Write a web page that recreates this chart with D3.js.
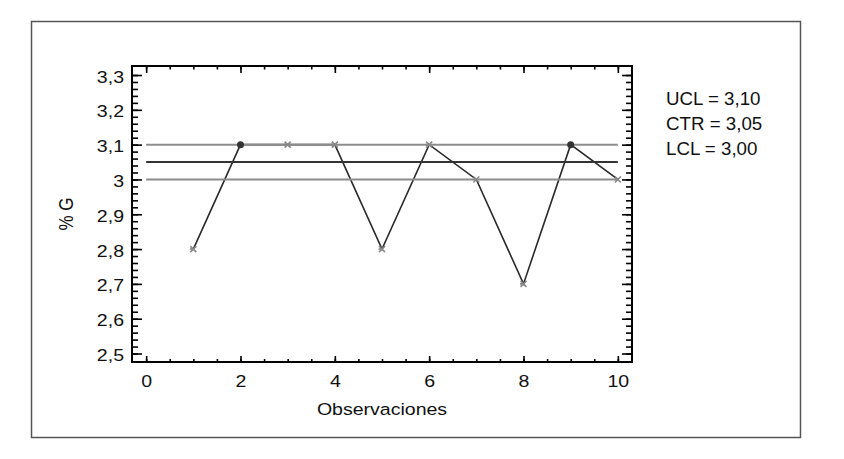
<!DOCTYPE html>
<html>
<head>
<meta charset="utf-8">
<script src="https://cdn.jsdelivr.net/npm/d3@7"></script>
<style>
  html, body { margin: 0; padding: 0; background: #fff; }
  svg { display: block; }
  text { font-family: Arial, "Liberation Sans", sans-serif; fill: #111; }
</style>
</head>
<body>
<div id="chart"></div>
<script>
// ---- data ----
const observations = [1, 2, 3, 4, 5, 6, 7, 8, 9, 10];
const values = [2.8, 3.1, 3.1, 3.1, 2.8, 3.1, 3.0, 2.7, 3.1, 3.0];
const markerTypes = ["x", "o", "x", "x", "x", "x", "x", "x", "o", "x"];
const limitNames = ["UCL", "CTR", "LCL"];
const limitValues = [3.10, 3.05, 3.00];
const limitLabels = ["UCL = 3,10", "CTR = 3,05", "LCL = 3,00"];
const xTicks = [0, 2, 4, 6, 8, 10];
const yTicks = [2.5, 2.6, 2.7, 2.8, 2.9, 3.0, 3.1, 3.2, 3.3];
const xLabel = "Observaciones";
const yLabel = "% G";

const W = 844, H = 459;
const fmt = v => String(+v.toFixed(2)).replace(".", ",");
const SX = 1.15;

const svg = d3.select("#chart").append("svg").attr("width", W).attr("height", H);

// outer border
svg.append("rect").attr("x", 31.5).attr("y", 21.5).attr("width", 769).attr("height", 416)
  .attr("fill", "none").attr("stroke", "#555").attr("stroke-width", 1.5);

const plot = {l: 132, r: 632, t: 66, b: 362};
const x = d3.scaleLinear().domain([-0.3, 10.3]).range([plot.l, plot.r]);
const y = d3.scaleLinear().domain([2.4756, 3.3259]).range([plot.b, plot.t]);

const xMinor = d3.range(0, 10.001, 0.5);
const yMinor = d3.range(2.5, 3.3001, 0.02);

function styleAxis(g) {
  g.select(".domain").remove();
  g.selectAll(".tick line").attr("stroke", "#000").attr("stroke-width", 1.6);
}

// left axis minor + major
svg.append("g").attr("transform", `translate(${plot.l},0)`)
  .call(d3.axisLeft(y).tickValues(yMinor).tickSize(-6).tickFormat(""))
  .call(styleAxis);
const ly = svg.append("g").attr("transform", `translate(${plot.l},0)`)
  .call(d3.axisLeft(y).tickValues(yTicks).tickSize(-10).tickPadding(8).tickFormat(fmt))
  .call(styleAxis);
ly.selectAll(".tick text").attr("x", null).attr("dy", null)
  .attr("transform", `translate(-8,7) scale(${SX},1)`)
  .style("font-size", "17px").attr("fill", "#111");

// right axis
svg.append("g").attr("transform", `translate(${plot.r},0)`)
  .call(d3.axisRight(y).tickValues(yMinor).tickSize(-6).tickFormat(""))
  .call(styleAxis);
svg.append("g").attr("transform", `translate(${plot.r},0)`)
  .call(d3.axisRight(y).tickValues(yTicks).tickSize(-10).tickFormat(""))
  .call(styleAxis);

// bottom axis
svg.append("g").attr("transform", `translate(0,${plot.b})`)
  .call(d3.axisBottom(x).tickValues(xMinor).tickSize(-3).tickFormat(""))
  .call(styleAxis);
const bx = svg.append("g").attr("transform", `translate(0,${plot.b})`)
  .call(d3.axisBottom(x).tickValues(xTicks).tickSize(-6).tickFormat(d => String(d)))
  .call(styleAxis);
bx.selectAll(".tick text").attr("y", null).attr("dy", null)
  .attr("transform", `translate(0,25) scale(${SX},1)`)
  .style("font-size", "17px").attr("fill", "#111");

// top axis
svg.append("g").attr("transform", `translate(0,${plot.t})`)
  .call(d3.axisTop(x).tickValues(xMinor).tickSize(-3.5).tickFormat(""))
  .call(styleAxis);
svg.append("g").attr("transform", `translate(0,${plot.t})`)
  .call(d3.axisTop(x).tickValues(xTicks).tickSize(-7).tickFormat(""))
  .call(styleAxis);

// plot frame
svg.append("rect").attr("x", plot.l).attr("y", plot.t)
  .attr("width", plot.r - plot.l).attr("height", plot.b - plot.t)
  .attr("fill", "none").attr("stroke", "#000").attr("stroke-width", 2);

// data line
const line = d3.line().x((d, i) => x(observations[i])).y(d => y(d));
svg.append("path").datum(values).attr("d", line)
  .attr("fill", "none").attr("stroke", "#2a2a2a").attr("stroke-width", 1.6);

// limit lines
const limitColors = ["#8c8c8c", "#333", "#8c8c8c"];
svg.selectAll(".limit").data(limitValues).enter().append("line")
  .attr("class", "limit")
  .attr("x1", x(0)).attr("x2", x(10))
  .attr("y1", d => y(d)).attr("y2", d => y(d))
  .attr("stroke", (d, i) => limitColors[i]).attr("stroke-width", 2);

// markers
const pts = values.map((v, i) => ({x: observations[i], y: v, t: markerTypes[i]}));
svg.selectAll(".mc").data(pts.filter(p => p.t === "o")).enter().append("circle")
  .attr("cx", d => x(d.x)).attr("cy", d => y(d.y)).attr("r", 3.5)
  .attr("fill", "#333");
const xs = svg.selectAll(".mx").data(pts.filter(p => p.t === "x")).enter().append("g")
  .attr("transform", d => `translate(${x(d.x)},${y(d.y)})`);
xs.append("path").attr("d", "M-3,-3L3,3M-3,3L3,-3M-3.5,0L1,0")
  .attr("stroke", "#888").attr("stroke-width", 1.6).attr("fill", "none");

// axis titles
svg.append("text").text(xLabel)
  .attr("transform", `translate(${(x(0) + x(10)) / 2},415) scale(${SX},1)`)
  .attr("text-anchor", "middle").style("font-size", "17px");
svg.append("text").text(yLabel)
  .attr("transform", `translate(73,${(plot.t + plot.b) / 2}) scale(${SX},1) rotate(-90)`)
  .attr("text-anchor", "middle").style("font-size", "17px");

// legend
svg.selectAll(".leg").data(limitLabels).enter().append("text")
  .attr("transform", (d, i) => `translate(666,${105 + i * 25}) scale(1.04,1)`)
  .text(d => d).style("font-size", "18px");
</script>
</body>
</html>
